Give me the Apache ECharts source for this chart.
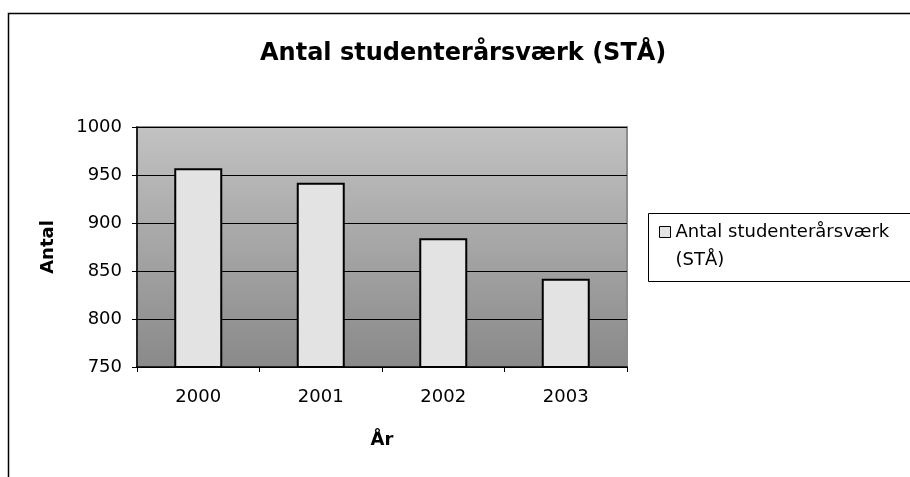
<!DOCTYPE html>
<html>
<head>
<meta charset="utf-8">
<script src="https://cdn.jsdelivr.net/npm/echarts@6/dist/echarts.min.js"></script>
<style>
  html, body { margin: 0; padding: 0; background: #fff; }
  #chart { width: 910px; height: 477px; }
</style>
</head>
<body>
<div id="chart"></div>
<script>
  // data
  const years = ['2000', '2001', '2002', '2003'];
  const staValues = [957, 942, 884, 842];
  const seriesName = 'Antal studenterårsværk\n(STÅ)';

  const font = 'DejaVu Sans';

  const myChart = echarts.init(document.getElementById('chart'));

  const option = {
    animation: false,
    backgroundColor: '#fff',
    title: {
      text: 'Antal studenterårsværk (STÅ)',
      left: 255,
      top: 37,
      textStyle: {
        fontFamily: font,
        fontSize: 24,
        fontWeight: 'bold',
        color: '#000'
      }
    },
    legend: {
      left: 659,
      top: 190,
      padding: 0,
      itemWidth: 11,
      itemHeight: 11,
      icon: 'rect',
      itemStyle: {
        borderColor: '#000',
        borderWidth: 1
      },
      // empty first line so the square sits level with the first text line
      formatter: function (name) { return ' \n' + name; },
      textStyle: {
        fontFamily: font,
        fontSize: 18,
        color: '#000',
        lineHeight: 28
      },
      data: [seriesName]
    },
    grid: {
      left: 137,
      right: 283,
      top: 127,
      bottom: 110,
      outerBoundsMode: 'none',
      show: true,
      borderColor: '#8c8c8c',
      borderWidth: 2,
      backgroundColor: {
        type: 'linear',
        x: 0, y: 0, x2: 0, y2: 1,
        colorStops: [
          { offset: 0, color: '#c2c2c2' },
          { offset: 1, color: '#898989' }
        ]
      }
    },
    xAxis: {
      type: 'category',
      data: years,
      name: 'År',
      nameLocation: 'middle',
      nameGap: 64,
      nameTextStyle: {
        fontFamily: font,
        fontSize: 18,
        fontWeight: 'bold',
        color: '#000'
      },
      axisLine: { lineStyle: { color: '#000', width: 1.5 } },
      axisTick: { show: true, length: 5, alignWithLabel: false, lineStyle: { color: '#000' } },
      axisLabel: {
        margin: 21,
        fontFamily: font,
        fontSize: 18,
        color: '#000'
      }
    },
    yAxis: {
      type: 'value',
      min: 750,
      max: 1000,
      interval: 50,
      name: 'Antal',
      nameLocation: 'middle',
      nameRotate: 90,
      nameGap: 80,
      nameTextStyle: {
        fontFamily: font,
        fontSize: 18,
        fontWeight: 'bold',
        color: '#000'
      },
      axisLine: { show: true, lineStyle: { color: '#000', width: 1.5 } },
      axisTick: { show: true, length: 5, lineStyle: { color: '#000' } },
      axisLabel: {
        margin: 15,
        fontFamily: font,
        fontSize: 18,
        color: '#000',
        formatter: function (v) { return String(v); }
      },
      splitLine: { show: true, lineStyle: { color: '#000', width: 1 } }
    },
    graphic: [
      {
        type: 'rect',
        shape: { x: 8.5, y: 13.5, width: 1000, height: 1000 },
        style: { fill: 'none', stroke: '#000', lineWidth: 1.5 },
        silent: true
      },
      {
        type: 'rect',
        shape: { x: 648.5, y: 213.5, width: 400, height: 68 },
        style: { fill: 'none', stroke: '#000', lineWidth: 1 },
        silent: true
      }
    ],
    series: [
      {
        name: seriesName,
        type: 'bar',
        data: staValues,
        barWidth: 48,
        itemStyle: {
          color: '#e3e3e3',
          borderColor: '#000',
          borderWidth: 2
        }
      }
    ]
  };

  myChart.setOption(option);
</script>
</body>
</html>
